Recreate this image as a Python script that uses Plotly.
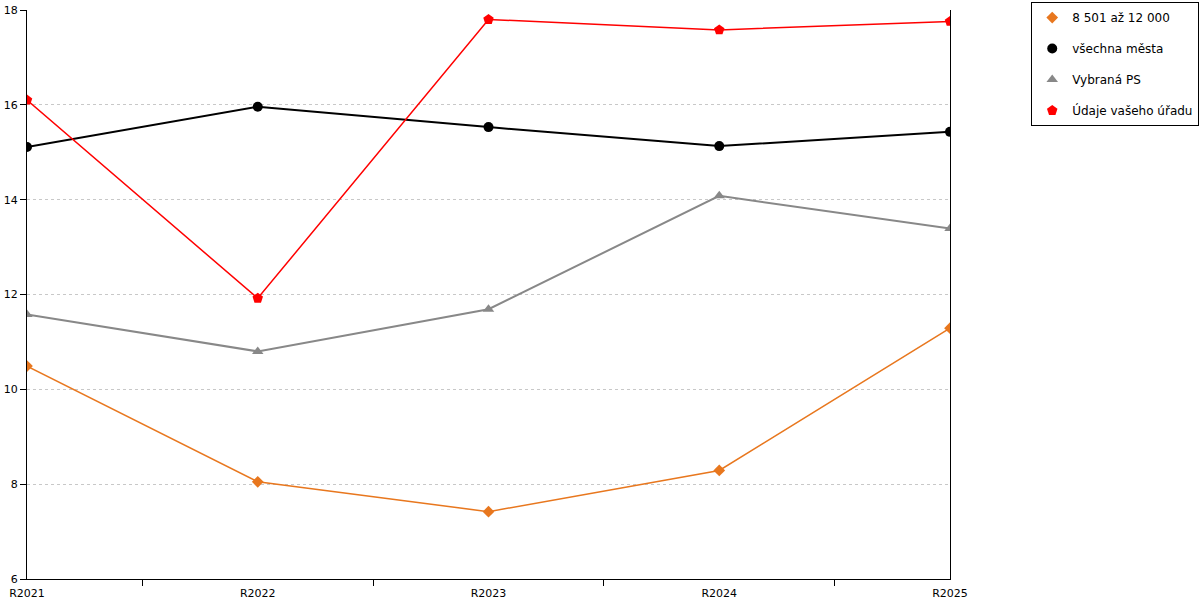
import plotly.graph_objects as go

years = ["R2021", "R2022", "R2023", "R2024", "R2025"]

# hodnoty
skupina_8501 = [10.49, 8.05, 7.42, 8.29, 11.29]
vsechna_mesta = [15.11, 15.96, 15.53, 15.13, 15.43]
vybrana_ps = [11.58, 10.80, 11.69, 14.08, 13.39]
vas_urad = [16.10, 11.92, 17.80, 17.58, 17.76]

series = [
    ("8 501 až 12 000", skupina_8501, "#e8771e", "diamond", 1.5, 9),
    ("všechna města", vsechna_mesta, "#000000", "circle", 2, 10),
    ("Vybraná PS", vybrana_ps, "#888888", "triangle-up", 2, 10),
    ("Údaje vašeho úřadu", vas_urad, "#ff0000", "pentagon", 1.5, 11),
]

fig = go.Figure()

for i, (name, vals, color, symbol, lw, ms) in enumerate(series):
    fig.add_trace(go.Scatter(
        x=years,
        y=vals,
        name=name,
        mode="lines+markers",
        line=dict(color=color, width=lw),
        marker=dict(color=color, symbol=symbol, size=ms),
        showlegend=False,
    ))
    # legenda jen se značkou, bez čáry
    fig.add_trace(go.Scatter(
        x=[None],
        y=[None],
        name=name,
        legendgroup=f"g{i}",
        mode="markers",
        marker=dict(color=color, symbol=symbol, size=ms),
        showlegend=True,
    ))

fig.update_layout(
    width=1200,
    height=600,
    margin=dict(l=27, r=250, t=10, b=21, autoexpand=False),
    paper_bgcolor="white",
    plot_bgcolor="white",
    font=dict(family="DejaVu Sans", size=12, color="black"),
    showlegend=True,
    legend=dict(
        x=1.088,
        y=1.014,
        xanchor="left",
        yanchor="top",
        bordercolor="black",
        borderwidth=1,
        tracegroupgap=12,
        font=dict(size=12),
        itemwidth=30,
    ),
)

fig.update_xaxes(
    type="category",
    range=[0, 4],
    automargin=False,
    showline=True,
    linecolor="black",
    linewidth=1,
    ticks="outside",
    tickson="boundaries",
    ticklen=6,
    tickcolor="black",
    ticklabelstandoff=4,
    showgrid=False,
    zeroline=False,
    tickfont=dict(size=11),
)

fig.update_yaxes(
    range=[6, 18],
    dtick=2,
    automargin=False,
    showline=True,
    mirror=True,
    linecolor="black",
    linewidth=1,
    ticks="outside",
    ticklen=6,
    tickcolor="black",
    showgrid=True,
    gridcolor="#c8c8c8",
    griddash="dot",
    gridwidth=1,
    zeroline=False,
    tickfont=dict(size=11),
)

# bez výchozího 8px okraje stránky, bez lišty nástrojů
fig.write_html(
    "out.html",
    config={"displayModeBar": False},
    post_script="document.body.style.margin='0';",
)
